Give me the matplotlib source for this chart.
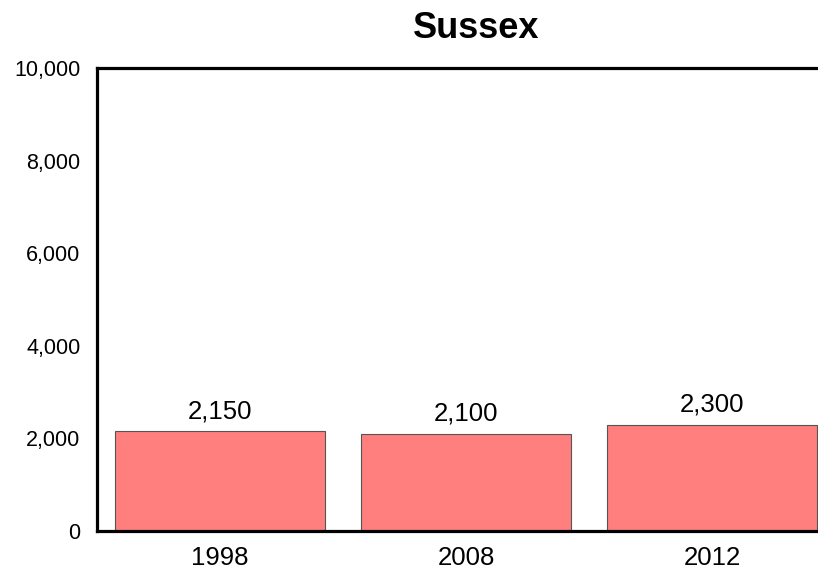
import matplotlib.pyplot as plt
from matplotlib.ticker import FuncFormatter

plt.rcParams['font.family'] = ['Liberation Sans', 'DejaVu Sans']

# Data
years = ['1998', '2008', '2012']
values = [2150, 2100, 2300]

fig = plt.figure(figsize=(8.18, 5.72), dpi=100)
# axes extends past the right edge, like the original (clipped)
ax = fig.add_axes([97 / 818, 41 / 572, 738 / 818, 463 / 572])

x = range(len(years))
bars = ax.bar(x, values, width=0.85, color='#ff7f7f', edgecolor='#555555', linewidth=0.8)

for xi, v in zip(x, values):
    ax.text(xi, v + 170, f'{v:,}', ha='center', va='bottom', fontsize=18.5)

ax.set_xlim(-0.5, 2.5)
ax.set_ylim(0, 10000)
ax.set_xticks(list(x))
ax.set_xticklabels(years, fontsize=18.5)
ax.set_yticks(range(0, 10001, 2000))
ax.yaxis.set_major_formatter(FuncFormatter(lambda v, p: f'{int(v):,}'))
ax.tick_params(axis='y', length=0, pad=12, labelsize=15.5)
ax.tick_params(axis='x', length=0, pad=11)

for side in ['left', 'top', 'bottom', 'right']:
    ax.spines[side].set_linewidth(2.3)

fig.text(0.5825, 0.951, 'Sussex', ha='center', va='center', fontsize=26, fontweight='bold')

fig.savefig('out.png', dpi=100)
